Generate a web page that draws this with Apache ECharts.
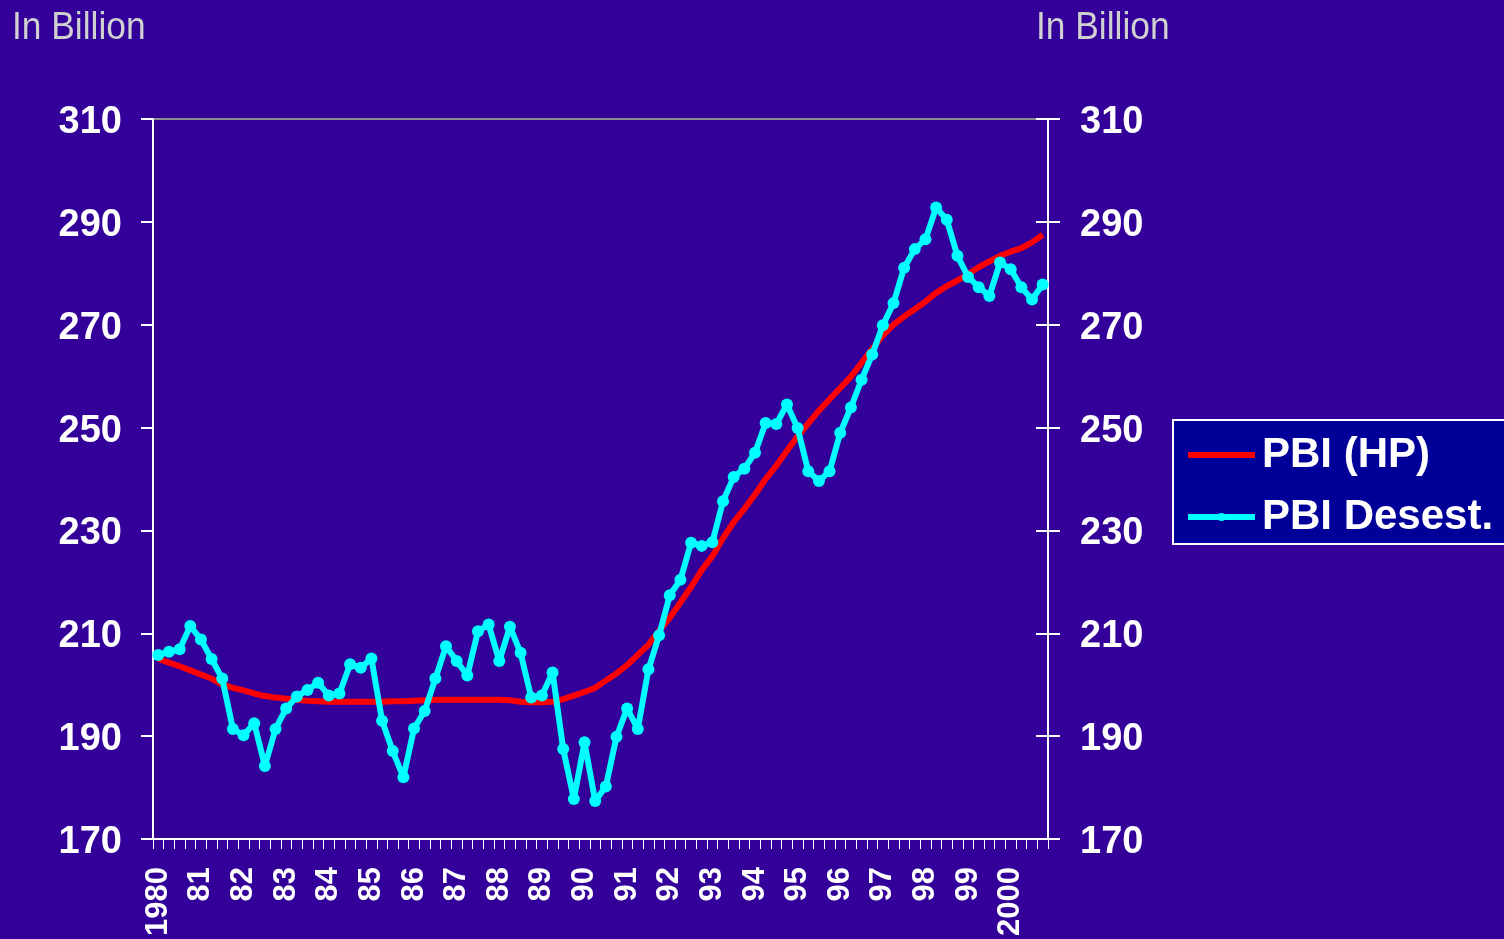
<!DOCTYPE html>
<html>
<head>
<meta charset="utf-8">
<title>PBI</title>
<script src="https://cdn.jsdelivr.net/npm/echarts@6/dist/echarts.min.js"></script>
<style>
  html, body { margin: 0; padding: 0; background: #330099; }
  #main { width: 1504px; height: 939px; }
</style>
</head>
<body>
<div id="main"></div>
<script>
// year labels (one per Q1)
var years = ['1980','81','82','83','84','85','86','87','88','89','90',
             '91','92','93','94','95','96','97','98','99','2000'];

// PBI (HP) trend, quarterly
var pbiHP = [205.0,204.3,203.6,202.8,202.0,201.2,200.1,199.4,198.9,198.3,
             197.8,197.5,197.3,197.1,196.9,196.8,196.7,196.7,196.7,196.7,
             196.7,196.7,196.8,196.8,196.9,197.0,197.1,197.1,197.1,197.1,
             197.1,197.1,197.1,197.0,196.7,196.6,196.6,196.7,197.2,197.9,
             198.6,199.4,200.8,202.2,203.8,205.8,207.8,210.5,213.0,216.0,
             219.0,222.3,225.0,228.5,231.6,234.2,237.0,240.0,242.6,245.5,
             248.3,250.8,253.3,255.5,257.7,259.9,262.6,265.3,267.9,270.0,
             271.6,273.0,274.5,276.2,277.5,278.6,279.8,281.2,282.3,283.4,
             284.2,284.9,286.0,287.5];

// PBI Desest., quarterly
var pbiDesest = [205.8,206.4,206.9,211.4,208.8,205.0,201.2,191.4,190.2,192.5,
                 184.2,191.4,195.4,197.7,199.0,200.4,197.9,198.3,204.0,203.3,
                 205.1,193.0,187.1,182.0,191.5,194.9,201.2,207.5,204.6,201.8,
                 210.4,211.7,204.6,211.3,206.2,197.5,197.9,202.4,187.5,177.8,
                 188.8,177.4,180.2,189.9,195.4,191.4,203.0,209.6,217.4,220.4,
                 227.6,227.0,227.7,235.7,240.4,242.0,245.1,250.9,250.7,254.5,
                 249.9,241.5,239.6,241.5,249.0,253.9,259.3,264.2,269.9,274.2,
                 281.1,284.7,286.6,292.8,290.4,283.4,279.3,277.3,275.6,282.1,
                 280.8,277.3,274.9,277.8];

var categories = [];
years.forEach(function (y) {
    for (var q = 1; q <= 4; q++) {
        categories.push(y + ' Q' + q);
    }
});

var chart = echarts.init(document.getElementById('main'));

var yCommon = {
    type: 'value',
    min: 170,
    max: 310,
    interval: 20,
    splitLine: { show: false },
    axisLine: { show: true, lineStyle: { color: '#ffffff', width: 2 } }
};

var yLabel = { color: '#ffffff', fontSize: 38, fontWeight: 'bold',
               verticalAlign: 'top', lineHeight: 7 };

var titleStyle = { text: 'In Billion', fill: '#d0d0d0', fontSize: 38,
                   fontFamily: 'Liberation Sans, Arial, sans-serif' };

var option = {
    backgroundColor: '#330099',
    animation: false,
    textStyle: { fontFamily: 'Liberation Sans, Arial, sans-serif' },
    graphic: [
        { type: 'text', left: 12, top: 10, scaleX: 0.93, style: titleStyle },
        { type: 'text', left: 1036, top: 10, scaleX: 0.93, style: titleStyle }
    ],
    grid: {
        left: 153,
        right: 456,
        top: 119,
        bottom: 99,
        show: true,
        borderColor: '#8c8c8c',
        borderWidth: 2,
        backgroundColor: 'transparent'
    },
    legend: {
        orient: 'vertical',
        left: 1173,
        top: 420,
        padding: [14, 30, 6, 12],
        itemGap: 20,
        itemWidth: 67,
        itemHeight: 10,
        backgroundColor: '#000099',
        borderColor: '#ffffff',
        borderWidth: 2,
        borderRadius: 0,
        lineStyle: { width: 6 },
        textStyle: { color: '#ffffff', fontSize: 42, fontWeight: 'bold', padding: [0, 0, 0, 2] },
        data: [
            { name: 'PBI (HP)', itemStyle: { opacity: 0 } },
            { name: 'PBI Desest.' }
        ]
    },
    xAxis: {
        type: 'category',
        data: categories,
        boundaryGap: true,
        axisLine: { lineStyle: { color: '#ffffff', width: 2 } },
        axisTick: { show: true, interval: 0, length: 10, lineStyle: { color: '#ffffff', width: 1 } },
        axisLabel: {
            interval: 3,
            rotate: 90,
            margin: 28,
            color: '#ffffff',
            fontSize: 31,
            fontWeight: 'bold',
            formatter: function (v) { return v.split(' ')[0]; }
        }
    },
    yAxis: [
        Object.assign({}, yCommon, {
            position: 'left',
            axisTick: { show: true, length: 12, lineStyle: { color: '#ffffff', width: 2 } },
            axisLabel: Object.assign({ margin: 31 }, yLabel)
        }),
        Object.assign({}, yCommon, {
            position: 'right',
            axisTick: { show: true, length: 12, lineStyle: { color: '#ffffff', width: 2 } },
            axisLabel: Object.assign({ margin: 32 }, yLabel)
        }),
        Object.assign({}, yCommon, {
            position: 'right',
            axisTick: { show: true, inside: true, length: 12, lineStyle: { color: '#ffffff', width: 2 } },
            axisLabel: { show: false }
        })
    ],
    series: [
        {
            name: 'PBI (HP)',
            type: 'line',
            data: pbiHP,
            symbol: 'none',
            lineStyle: { color: '#ff0000', width: 6 },
            itemStyle: { color: '#ff0000' }
        },
        {
            name: 'PBI Desest.',
            type: 'line',
            data: pbiDesest,
            symbol: 'circle',
            symbolSize: 12,
            showAllSymbol: true,
            lineStyle: { color: '#00ffff', width: 6 },
            itemStyle: { color: '#00ffff' }
        }
    ]
};

chart.setOption(option);
</script>
</body>
</html>
